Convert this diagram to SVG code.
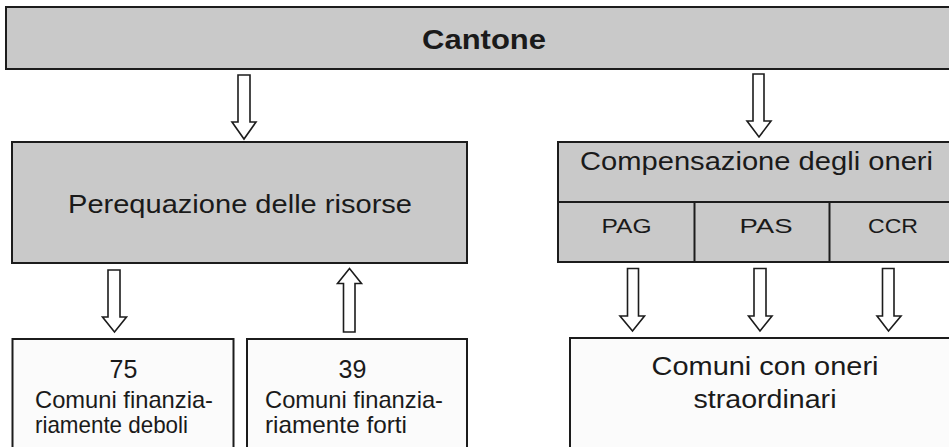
<svg xmlns="http://www.w3.org/2000/svg" width="949" height="447" viewBox="0 0 949 447">
<style>
.gray{fill:#c9c9c9;stroke:#1c1c1c;stroke-width:2}
.white{fill:#fbfbfb;stroke:#1c1c1c;stroke-width:2}
.div{stroke:#1c1c1c;stroke-width:2;fill:none}
.arr{fill:#ffffff;stroke:#1c1c1c;stroke-width:1.6;stroke-linejoin:miter}
text{font-family:"Liberation Sans",Arial,sans-serif;fill:#1a1a1a}
.t{font-size:24px}
.big{font-size:25px}
.c{text-anchor:middle}
</style>
<rect width="949" height="447" fill="#ffffff"/>
<g id="cantone">
<rect class="gray" x="6" y="7" width="960" height="62"/>
<text x="484" y="49" class="c" font-size="28" font-weight="bold" textLength="124" lengthAdjust="spacingAndGlyphs">Cantone</text>
</g>
<g id="perequazione">
<rect class="gray" x="12" y="142" width="455" height="121"/>
<text x="240" y="213" class="big c" textLength="344" lengthAdjust="spacingAndGlyphs">Perequazione delle risorse</text>
</g>
<g id="compensazione">
<rect class="gray" x="558" y="142" width="410" height="120"/>
<line class="div" x1="558" y1="202" x2="968" y2="202"/>
<line class="div" x1="694.5" y1="202" x2="694.5" y2="262"/>
<line class="div" x1="829.5" y1="202" x2="829.5" y2="262"/>
<text x="756.5" y="170" class="big c" textLength="353" lengthAdjust="spacingAndGlyphs">Compensazione degli oneri</text>
<text x="626.5" y="233" class="c" font-size="21" textLength="50" lengthAdjust="spacingAndGlyphs">PAG</text>
<text x="766" y="233" class="c" font-size="21" textLength="53" lengthAdjust="spacingAndGlyphs">PAS</text>
<text x="893" y="233" class="c" font-size="21" textLength="50" lengthAdjust="spacingAndGlyphs">CCR</text>
</g>
<g id="deboli">
<rect class="white" x="12.5" y="339" width="221" height="120"/>
<text x="123.5" y="378" class="c" font-size="25">75</text>
<text x="35" y="408" class="t" textLength="178" lengthAdjust="spacingAndGlyphs">Comuni finanzia-</text>
<text x="35" y="433" class="t" textLength="153" lengthAdjust="spacingAndGlyphs">riamente deboli</text>
</g>
<g id="forti">
<rect class="white" x="247" y="339" width="220" height="120"/>
<text x="352.5" y="378" class="c" font-size="25">39</text>
<text x="265" y="408" class="t" textLength="178" lengthAdjust="spacingAndGlyphs">Comuni finanzia-</text>
<text x="265" y="433" class="t" textLength="142" lengthAdjust="spacingAndGlyphs">riamente forti</text>
</g>
<g id="oneri-straordinari">
<rect class="white" x="570" y="338" width="400" height="121"/>
<text x="765" y="375" class="big c" textLength="227" lengthAdjust="spacingAndGlyphs">Comuni con oneri</text>
<text x="765" y="408" class="big c" textLength="143" lengthAdjust="spacingAndGlyphs">straordinari</text>
</g>
<g id="connectors">
<polygon class="arr" points="238,75 250,75 250,122 256,122 244,139 232,122 238,122"/>
<polygon class="arr" points="753,74 764,74 764,121 771,121 759,137 747,121 753,121"/>
<polygon class="arr" points="108,270 120,270 120,317 126.5,317 114.5,332 102.5,317 108,317"/>
<polygon class="arr" points="343.5,332 355,332 355,283.5 361.5,283.5 349.5,268.5 337.5,283.5 343.5,283.5"/>
<polygon class="arr" points="627.5,268.5 638.5,268.5 638.5,316 644.5,316 632.5,331 620,316 627.5,316"/>
<polygon class="arr" points="754,268.5 766,268.5 766,316 772,316 760,331 748.5,316 754,316"/>
<polygon class="arr" points="882.5,268.5 894,268.5 894,316 901,316 888.5,331 877,316 882.5,316"/>
</g>
</svg>
